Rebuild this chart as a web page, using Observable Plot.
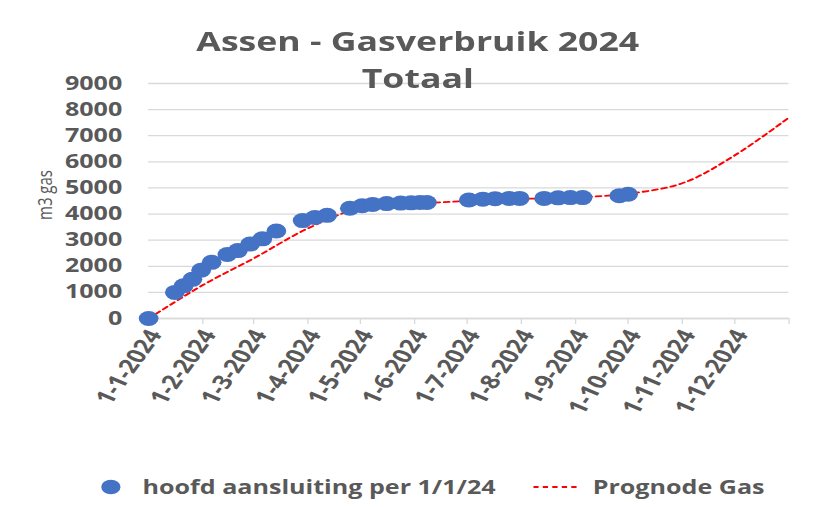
<!DOCTYPE html>
<html>
<head>
<meta charset="utf-8">
<script src="https://cdn.jsdelivr.net/npm/d3@7"></script>
<script src="https://cdn.jsdelivr.net/npm/@observablehq/plot@0.6"></script>
<style>
  html, body { margin: 0; padding: 0; background: #fff; }
  #frame { position: absolute; left: 7px; top: 8px; width: 900px; height: 600px;
           border-left: 1px solid #d9d9d9; border-top: 1px solid #d9d9d9; }
  #wrap { position: absolute; left: 0; top: 0; width: 620px; height: 507px;
          transform: scaleX(1.32); transform-origin: 0 0; font-family: "Open Sans", sans-serif; }
  #title { position: absolute; left: 0; top: 22px; width: 633px; text-align: center;
           font-weight: 700; font-size: 27px; line-height: 37px; color: #595959; z-index: 2; }
  #legend { position: absolute; left: 0; top: 472px; width: 620px; height: 30px; z-index: 2;
            font-weight: 700; font-size: 19px; color: #595959; }
  #legend .item { position: absolute; top: 0; display: flex; align-items: center; height: 30px; }
  #chart { position: absolute; left: 0; top: 0; }
</style>
</head>
<body>
<div id="frame"></div>
<div id="wrap">
  <div id="chart"></div>
  <div id="title">Assen - Gasverbruik 2024<br>Totaal</div>
  <div id="legend"></div>
</div>
<script>
// ---- data ----
const actualDates = ["2024-01-01","2024-01-16","2024-01-21","2024-01-26","2024-01-31","2024-02-06","2024-02-15","2024-02-21","2024-02-28","2024-03-06","2024-03-14","2024-03-29","2024-04-05","2024-04-12","2024-04-25","2024-05-02","2024-05-08","2024-05-16","2024-05-24","2024-05-30","2024-06-04","2024-06-08","2024-07-02","2024-07-10","2024-07-17","2024-07-25","2024-07-31","2024-08-14","2024-08-22","2024-08-29","2024-09-05","2024-09-26","2024-10-01"];
const actualValues = [0,1000,1250,1500,1850,2150,2450,2600,2850,3050,3350,3750,3870,3950,4220,4320,4370,4400,4420,4430,4440,4440,4540,4570,4590,4600,4600,4600,4620,4630,4630,4700,4760];

const forecastDates = ["2024-01-01","2024-02-01","2024-03-01","2024-04-01","2024-05-01","2024-06-01","2024-07-01","2024-08-01","2024-09-01","2024-10-01","2024-11-01","2024-12-01","2025-01-01"];
const forecastValues = [0,1280,2300,3450,4230,4390,4500,4580,4640,4780,5180,6250,7700];

const xTickDates = ["2024-01-01","2024-02-01","2024-03-01","2024-04-01","2024-05-01","2024-06-01","2024-07-01","2024-08-01","2024-09-01","2024-10-01","2024-11-01","2024-12-01","2025-01-01"];
const yTicks = [0,1000,2000,3000,4000,5000,6000,7000,8000,9000];

const seriesNames = ["hoofd aansluiting per 1/1/24", "Prognode Gas"];
const yLabel = "m3 gas";

// ---- build ----
const parse = s => new Date(s + "T00:00:00Z");
const actual = actualDates.map((d, i) => ({date: parse(d), value: actualValues[i]}));
const forecast = forecastDates.map((d, i) => ({date: parse(d), value: forecastValues[i]}));
const xTicks = xTickDates.map(parse);
const fmt = d => d.getUTCFullYear() === 2025 ? "" : `${d.getUTCDate()}-${d.getUTCMonth() + 1}-${d.getUTCFullYear()}`;

const grey = "#595959";
const gridC = "#d9d9d9";
const blue = "#4472C4";
const red = "#FF0000";

const chart = Plot.plot({
  width: 620,
  height: 507,
  marginLeft: 112.1,
  marginRight: 22.7,
  marginTop: 83,
  marginBottom: 189,
  style: {fontFamily: "Open Sans", background: "white", overflow: "visible"},
  x: {type: "utc", domain: [parse("2024-01-01"), parse("2025-01-01")]},
  y: {domain: [0, 9000]},
  marks: [
    Plot.gridY(yTicks, {stroke: gridC, strokeOpacity: 1, strokeWidth: 1.3}),
    Plot.ruleY([0], {stroke: gridC, strokeWidth: 1.3}),
    Plot.axisX({ticks: xTicks, tickSize: 6, tickFormat: () => "", stroke: gridC, label: null}),
    Plot.axisX({ticks: xTicks, tickFormat: fmt, tickRotate: -61, tickSize: 0, tickPadding: 13, dx: 5,
                fill: grey, fontSize: 20, fontWeight: "bold", label: null}),
    Plot.axisY({ticks: yTicks, tickFormat: d => String(d), tickSize: 0, tickPadding: 20,
                fill: grey, fontSize: 19, fontWeight: "bold", label: null}),
    Plot.text([yLabel], {frameAnchor: "left", dx: -78, dy: -6, rotate: -90, text: d => d,
                fontSize: 15, fill: grey, textAnchor: "middle"}),
    Plot.line(forecast, {x: "date", y: "value", stroke: red, strokeWidth: 1.8,
                strokeDasharray: "4,3.2", curve: "catmull-rom"}),
    Plot.dot(actual, {x: "date", y: "value", r: 7.5, fill: blue, stroke: "none"})
  ]
});
document.getElementById("chart").appendChild(chart);

// ---- legend ----
const legend = document.getElementById("legend");
const it1 = document.createElement("div");
it1.className = "item";
it1.style.left = "76px";
it1.innerHTML = `<svg width="16" height="16" style="margin-right:16px"><circle cx="8" cy="8" r="7.3" fill="${blue}"/></svg><span>${seriesNames[0]}</span>`;
legend.appendChild(it1);
const it2 = document.createElement("div");
it2.className = "item";
it2.style.left = "404px";
it2.innerHTML = `<svg width="36" height="16" style="margin-right:9px"><line x1="0" x2="36" y1="8" y2="8" stroke="${red}" stroke-width="1.8" stroke-dasharray="4,3.2"/></svg><span>${seriesNames[1]}</span>`;
legend.appendChild(it2);
</script>
</body>
</html>
